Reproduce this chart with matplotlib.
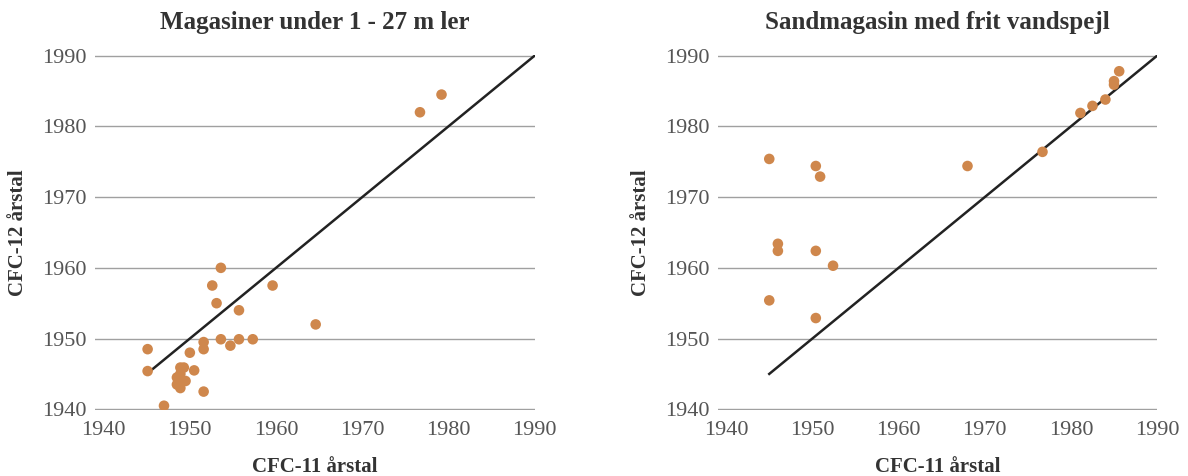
import numpy as np
import matplotlib.pyplot as plt

# Magasiner under 1 - 27 m ler
ler_cfc11 = [1945.1, 1945.1, 1947.0, 1948.9, 1949.3, 1948.5, 1948.9, 1949.5, 1948.5, 1948.9,
             1950.0, 1950.5, 1951.6, 1951.6, 1951.6, 1952.6, 1953.1, 1953.6, 1953.6, 1954.7,
             1955.7, 1955.7, 1957.3, 1959.6, 1964.6, 1976.7, 1979.2]
ler_cfc12 = [1948.5, 1945.4, 1940.5, 1945.9, 1945.9, 1944.5, 1945.0, 1944.0, 1943.5, 1943.0,
             1948.0, 1945.5, 1949.5, 1948.5, 1942.5, 1957.5, 1955.0, 1960.0, 1949.9, 1949.0,
             1954.0, 1949.9, 1949.9, 1957.5, 1952.0, 1982.0, 1984.5]

# Sandmagasin med frit vandspejl
sand_cfc11 = [1945.0, 1950.4, 1950.9, 1968.0, 1976.7, 1981.1, 1982.5, 1984.0, 1985.0, 1985.0,
              1985.6, 1946.0, 1946.0, 1950.4, 1952.4, 1945.0, 1950.4]
sand_cfc12 = [1975.4, 1974.4, 1972.9, 1974.4, 1976.4, 1981.9, 1982.9, 1983.8, 1986.4, 1985.9,
              1987.8, 1963.4, 1962.4, 1962.4, 1960.3, 1955.4, 1952.9]

line_x = [1945, 1990]
line_y = [1945, 1990]

ticks = [1940, 1950, 1960, 1970, 1980, 1990]
titles = ["Magasiner under 1 - 27 m ler", "Sandmagasin med frit vandspejl"]

plt.rcParams['font.family'] = ['Liberation Serif', 'DejaVu Serif']

fig = plt.figure(figsize=(11.88, 4.76), dpi=100)
ax1 = fig.add_axes([0.080, 0.1387, 0.370, 0.7458])
ax2 = fig.add_axes([0.604, 0.1387, 0.370, 0.7458])

dot = '#cf874c'
for ax, xs, ys, title in [(ax1, ler_cfc11, ler_cfc12, titles[0]),
                          (ax2, sand_cfc11, sand_cfc12, titles[1])]:
    ax.set_xlim(1939, 1990)
    ax.set_ylim(1939.9, 1990.1)
    ax.set_yticks(ticks)
    ax.set_xticks(ticks)
    ax.grid(axis='y', color='#a0a0a0', lw=1.0)
    ax.set_axisbelow(True)
    for s in ax.spines.values():
        s.set_visible(False)
    ax.tick_params(length=0, labelsize=16, labelcolor='#555555')
    ax.tick_params(axis='x', pad=8)
    ax.tick_params(axis='y', pad=6)
    ax.plot(line_x, line_y, color='#222222', lw=1.8, zorder=2)
    ax.scatter(xs, ys, s=58, color=dot, edgecolors='none', zorder=3)
    ax.set_title(title, fontsize=18, fontweight='bold', color='#333333', pad=19)
    ax.set_xlabel('CFC-11 årstal', fontsize=15, fontweight='bold', color='#333333', labelpad=12)
    ax.set_ylabel('CFC-12 årstal', fontsize=15, fontweight='bold', color='#333333', labelpad=10)

fig.savefig('out.png', dpi=100)
